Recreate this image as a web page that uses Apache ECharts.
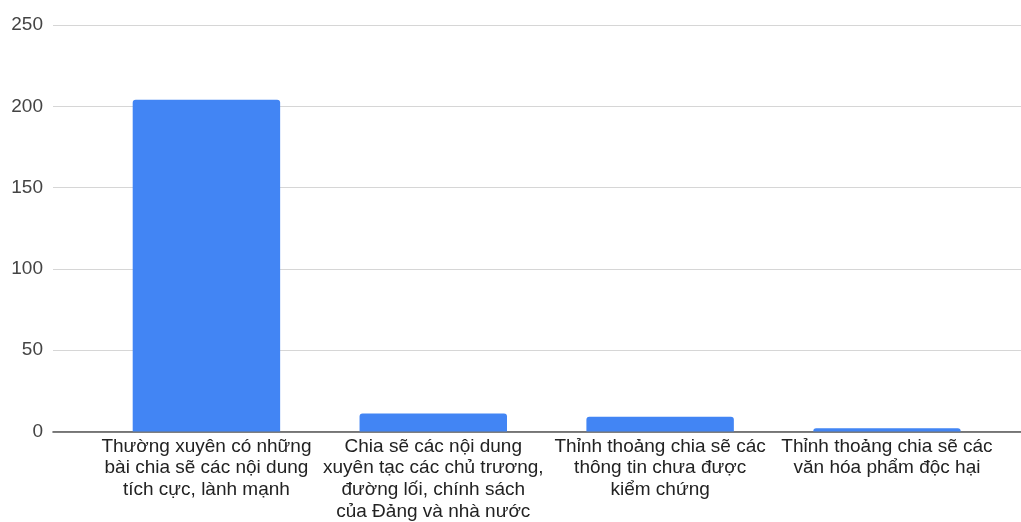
<!DOCTYPE html>
<html>
<head>
<meta charset="utf-8">
<script src="https://cdn.jsdelivr.net/npm/echarts@6/dist/echarts.min.js"></script>
<style>
  html, body { margin: 0; padding: 0; background: #ffffff; }
  #chart { width: 1021px; height: 522px; }
</style>
</head>
<body>
<div id="chart"></div>
<script>
// Survey answers (category labels, wrapped as shown under each bar)
const categories = [
  'Thường xuyên có những\nbài chia sẽ các nội dung\ntích cực, lành mạnh',
  'Chia sẽ các nội dung\nxuyên tạc các chủ trương,\nđường lối, chính sách\ncủa Đảng và nhà nước',
  'Thỉnh thoảng chia sẽ các\nthông tin chưa được\nkiểm chứng',
  'Thỉnh thoảng chia sẽ các\nvăn hóa phẩm độc hại'
];
// Number of respondents per answer
const counts = [204, 11, 9, 2];
// Value axis range and step
const yMin = 0;
const yMax = 250;
const yStep = 50;

const FONT = '"Liberation Sans", Arial, sans-serif';
const chart = echarts.init(document.getElementById('chart'));

chart.setOption({
  animation: false,
  backgroundColor: '#ffffff',
  textStyle: { fontFamily: FONT },
  grid: [
    // full-width grid carrying the horizontal gridlines and baseline
    { left: 53, right: 0, top: 25, bottom: 90.5, containLabel: false, outerBoundsMode: 'none' },
    // inner grid holding the bars and category labels (labels may run past the bottom edge)
    { left: 93, right: 20.6, top: 25, bottom: 90.5, containLabel: false, outerBoundsMode: 'none' }
  ],
  xAxis: [
    {
      gridIndex: 0, type: 'value', min: 0, max: 1,
      axisLine: { show: true, lineStyle: { color: '#555555', width: 1.6 } },
      axisTick: { show: false }, axisLabel: { show: false }, splitLine: { show: false }
    },
    {
      gridIndex: 1, type: 'category', data: categories,
      axisLine: { show: false }, axisTick: { show: false },
      axisLabel: {
        interval: 0, margin: 4, color: '#222222',
        fontSize: 19, lineHeight: 21.7, fontFamily: FONT, align: 'center'
      }
    }
  ],
  yAxis: [
    {
      gridIndex: 0, type: 'value', min: yMin, max: yMax, interval: yStep,
      axisLine: { show: false }, axisTick: { show: false },
      axisLabel: { color: '#444444', fontSize: 19, margin: 10, fontFamily: FONT },
      splitLine: { lineStyle: { color: '#d6d6d6', width: 1.2 } }
    },
    {
      gridIndex: 1, type: 'value', min: yMin, max: yMax, interval: yStep, show: false
    }
  ],
  series: [
    {
      type: 'bar',
      xAxisIndex: 1, yAxisIndex: 1,
      data: counts,
      barWidth: '65%',
      itemStyle: { color: '#4285F4', borderRadius: [3, 3, 0, 0] }
    }
  ]
});
</script>
</body>
</html>
